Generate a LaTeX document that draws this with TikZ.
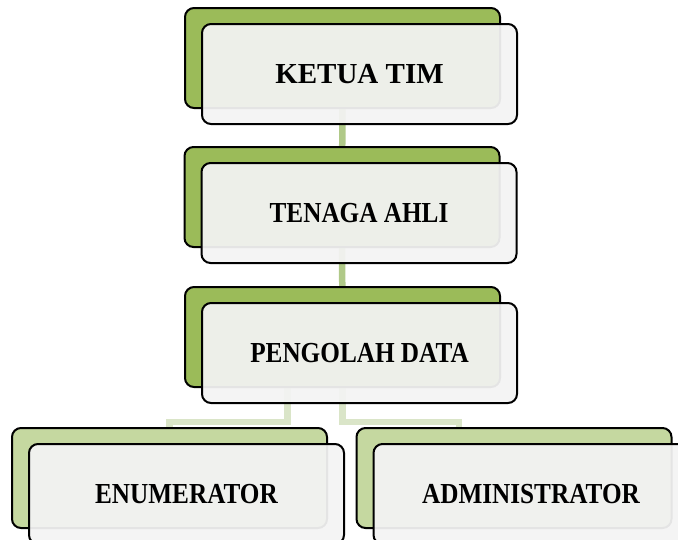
\documentclass[tikz,border=0pt]{standalone}
\usepackage{fontspec}
\setmainfont{Liberation Serif}
\newfontfamily\narrowserif[FakeStretch=0.87]{Liberation Serif}
\usetikzlibrary{shadows}
\usetikzlibrary{backgrounds}
\definecolor{topgreen}{HTML}{9BBB59}
\definecolor{lowgreen}{HTML}{C5D8A0}
\definecolor{frontgray}{HTML}{F3F3F3}
\definecolor{linkgreen}{HTML}{B0C988}
\definecolor{linkpale}{HTML}{DAE5C8}
\tikzset{
    boxbase/.style = {rectangle, rounded corners=9pt, line width=2pt, draw=black, minimum width=315pt, minimum height=100pt, fill=frontgray, fill opacity=0.94, text opacity=1, font=\narrowserif\bfseries\fontsize{29}{34}\selectfont},
    boxg/.style = {boxbase, copy shadow={shadow xshift=-17pt, shadow yshift=16pt, fill=topgreen, draw=black, line width=2pt, opacity=1}},
    boxl/.style = {boxbase, copy shadow={shadow xshift=-17pt, shadow yshift=16pt, fill=lowgreen, draw=black, line width=2pt, opacity=1}},
    linkn/.style = {line width=6.5pt, linkgreen},
    linkp/.style = {line width=6.5pt, linkpale}
}
\begin{document}
\begin{tikzpicture}[x=1pt,y=-1pt]
\useasboundingbox (0,0) rectangle (678,539);
%
\node[boxg, font=\bfseries\fontsize{29}{34}\selectfont] at (359.5,74) (ketua) {KETUA TIM};
\node[boxg] at (359,213) (tenaga) {TENAGA AHLI};
\node[boxg] at (359.5,353) (pengolah) {PENGOLAH DATA};
\node[boxl] at (186.5,494) (enumerator) {ENUMERATOR};
\node[boxl] at (531,494) (admin) {ADMINISTRATOR};
%
\begin{scope}[on background layer]
\draw[linkn] ([xshift=-17pt]ketua.center) -- ([xshift=-17pt]tenaga.center);
\draw[linkn] ([xshift=-17pt]tenaga.center) -- ([xshift=-17pt]pengolah.center);
\draw[linkp] ([xshift=-72pt]pengolah.center) |- ([xshift=-17pt,yshift=72pt]enumerator.center) -- ([xshift=-17pt]enumerator.center);
\draw[linkp] ([xshift=-17pt]pengolah.center) |- ([xshift=-72pt,yshift=72pt]admin.center) -- ([xshift=-72pt]admin.center);
\end{scope}
\end{tikzpicture}
\end{document}
